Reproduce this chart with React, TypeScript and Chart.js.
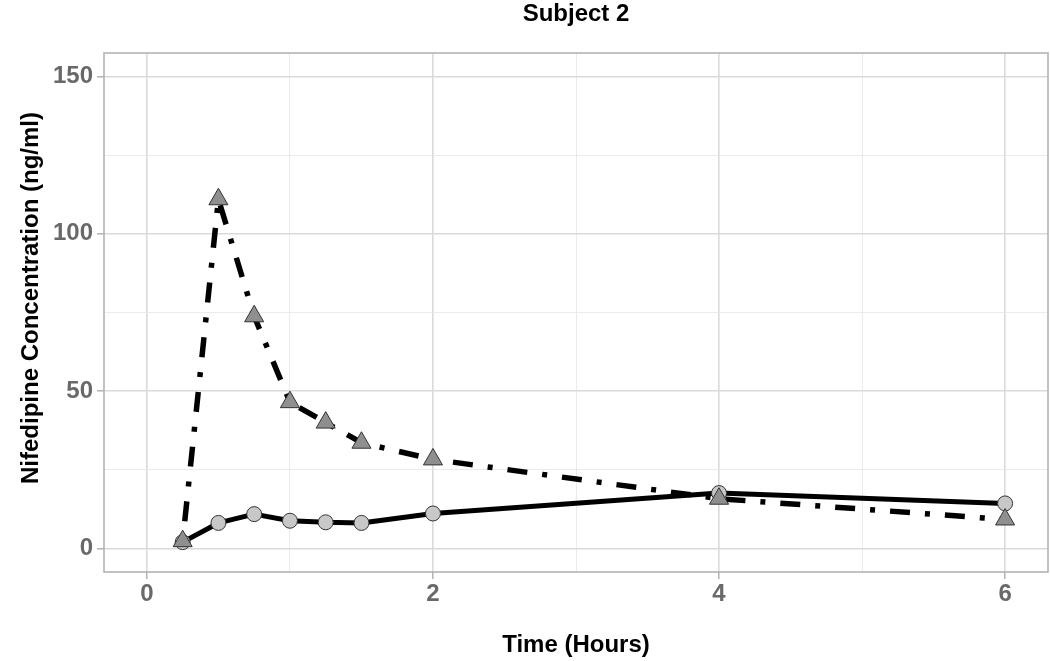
import React, { useEffect, useRef } from "react";
import { Chart, registerables } from "chart.js";

Chart.register(...registerables);

const chartTitle = "Subject 2";
const xAxisTitle = "Time (Hours)";
const yAxisTitle = "Nifedipine Concentration (ng/ml)";

const timeHours = [0.25, 0.5, 0.75, 1, 1.25, 1.5, 2, 4, 6];
const circleSeries = [2.0, 8.1, 10.9, 8.8, 8.3, 8.1, 11.1, 17.6, 14.3];
const triangleSeries = [2.3, 111, 73.8, 46.5, 40.0, 33.6, 28.3, 15.8, 9.2];

const xTickValues = [0, 1, 2, 3, 4, 5, 6];
const xMajorTicks = [0, 2, 4, 6];
const yTickValues = [0, 25, 50, 75, 100, 125, 150];
const yMajorTicks = [0, 50, 100, 150];

const FONT = "'Liberation Sans', Arial, Helvetica, sans-serif";

export default function App() {
  const ref = useRef<HTMLCanvasElement | null>(null);

  useEffect(() => {
    if (!ref.current) return;
    const toXY = (ys: number[]) => timeHours.map((x, i) => ({ x, y: ys[i] }));

    const panelPlugin = {
      id: "panelDecor",
      afterDraw(chart: any) {
        const { ctx, chartArea } = chart;
        ctx.save();
        ctx.strokeStyle = "#B3B3B3";
        ctx.lineWidth = 1.6;
        ctx.strokeRect(chartArea.left, chartArea.top, chartArea.right - chartArea.left, chartArea.bottom - chartArea.top);
        ctx.fillStyle = "#000000";
        ctx.font = `bold 24px ${FONT}`;
        ctx.textAlign = "center";
        ctx.textBaseline = "middle";
        ctx.fillText(chartTitle, (chartArea.left + chartArea.right) / 2, 14);
        // y-axis title
        ctx.translate(31, 298);
        ctx.rotate(-Math.PI / 2);
        ctx.font = `bold 24px ${FONT}`;
        ctx.fillText(yAxisTitle, 0, 0);
        ctx.restore();
      },
    };

    const isMajorX = (v: number) => xMajorTicks.includes(v);
    const isMajorY = (v: number) => yMajorTicks.includes(v);

    const chart = new Chart(ref.current, {
      type: "line",
      data: {
        datasets: [
          {
            data: toXY(circleSeries),
            borderColor: "#000000",
            borderWidth: 5,
            pointRadius: 0,
            borderJoinStyle: "round",
            fill: false,
            order: 3,
          },
          {
            data: toXY(triangleSeries),
            borderColor: "#000000",
            borderWidth: 5.5,
            borderDash: [5, 15, 20, 15],
            pointRadius: 0,
            borderJoinStyle: "round",
            fill: false,
            order: 2,
          },
          {
            data: toXY(circleSeries),
            showLine: false,
            pointStyle: "circle",
            pointRadius: 7.5,
            pointBackgroundColor: "#C8C8C8",
            pointBorderColor: "#333333",
            pointBorderWidth: 1,
            order: 1,
          },
          {
            data: toXY(triangleSeries),
            showLine: false,
            pointStyle: "triangle",
            pointRadius: 11,
            pointBackgroundColor: "#8F8F8F",
            pointBorderColor: "#333333",
            pointBorderWidth: 1,
            order: 0,
          },
        ],
      },
      options: {
        responsive: false,
        animation: false,
        devicePixelRatio: 1,
        events: [],
        layout: { autoPadding: false, padding: { top: 53, right: 2, left: 0, bottom: 0 } },
        plugins: { legend: { display: false }, tooltip: { enabled: false }, title: { display: false } },
        scales: {
          x: {
            type: "linear",
            min: -0.3,
            max: 6.3,
            afterBuildTicks: (axis: any) => {
              axis.ticks = xTickValues.map((v) => ({ value: v }));
            },
            afterFit: (scale: any) => {
              scale.height = 89;
              scale.paddingLeft = 0;
              scale.paddingRight = 0;
            },
            ticks: {
              autoSkip: false,
              maxRotation: 0,
              padding: 1,
              color: "#696969",
              font: { family: FONT, size: 24, weight: "bold" },
              callback: (v: any) => (isMajorX(Number(v)) ? String(v) : ""),
            },
            grid: {
              color: (c: any) => (isMajorX(c.tick?.value) ? "#DADADA" : "#E6E6E6"),
              lineWidth: (c: any) => (isMajorX(c.tick?.value) ? 1.6 : 0.8),
              tickColor: (c: any) => (isMajorX(c.tick?.value) ? "#B3B3B3" : "rgba(0,0,0,0)"),
              tickLength: 7,
              tickWidth: 1.5,
              drawTicks: true,
            },
            border: { display: false },
            title: {
              display: true,
              text: xAxisTitle,
              color: "#000000",
              font: { family: FONT, size: 24, weight: "bold" },
              padding: { top: 0, bottom: 1 },
            },
          },
          y: {
            type: "linear",
            min: -7.5,
            max: 157.5,
            afterBuildTicks: (axis: any) => {
              axis.ticks = yTickValues.map((v) => ({ value: v }));
            },
            afterFit: (scale: any) => {
              scale.width = 104;
              scale.paddingTop = 0;
              scale.paddingBottom = 0;
            },
            ticks: {
              autoSkip: false,
              padding: 4,
              color: "#696969",
              font: { family: FONT, size: 24, weight: "bold" },
              callback: (v: any) => (isMajorY(Number(v)) ? String(v) : ""),
            },
            grid: {
              color: (c: any) => (isMajorY(c.tick?.value) ? "#DADADA" : "#E6E6E6"),
              lineWidth: (c: any) => (isMajorY(c.tick?.value) ? 1.6 : 0.8),
              tickColor: (c: any) => (isMajorY(c.tick?.value) ? "#B3B3B3" : "rgba(0,0,0,0)"),
              tickLength: 7,
              tickWidth: 1.5,
              drawTicks: true,
            },
            border: { display: false },
            title: { display: false },
          },
        },
      },
      plugins: [panelPlugin],
    } as any);

    return () => chart.destroy();
  }, []);

  return (
    <div style={{ position: "fixed", left: 0, top: 0, width: 1050, height: 661, background: "#FFFFFF" }}>
      <canvas ref={ref} width={1050} height={661} style={{ display: "block" }} />
    </div>
  );
}
